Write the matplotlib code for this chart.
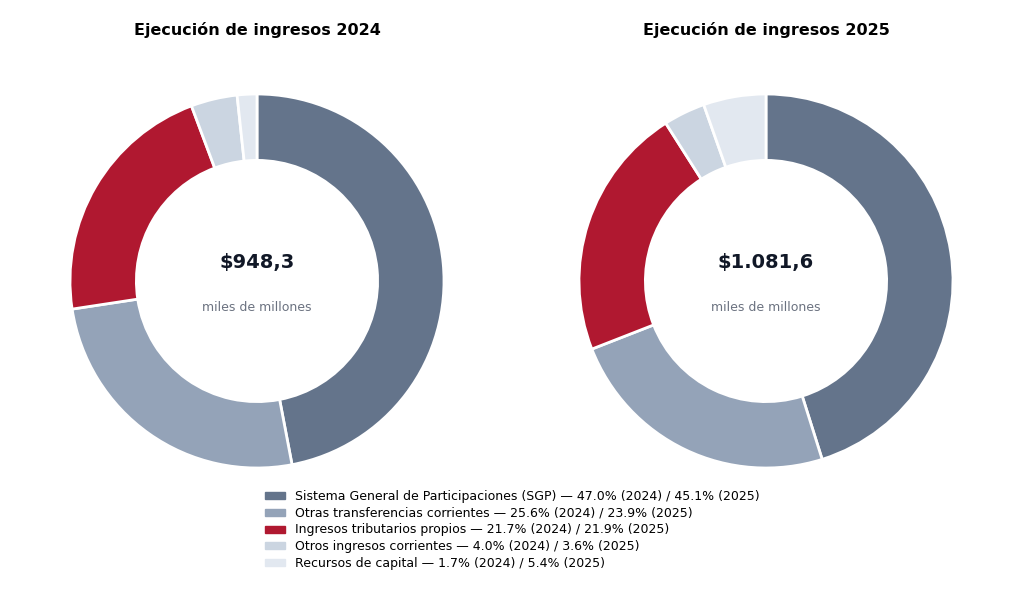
import matplotlib.pyplot as plt

categories = ['Sistema General de Participaciones (SGP)', 'Otras transferencias corrientes',
              'Ingresos tributarios propios', 'Otros ingresos corrientes', 'Recursos de capital']
shares_2024 = [47.0, 25.6, 21.7, 4.0, 1.7]
shares_2025 = [45.1, 23.9, 21.9, 3.6, 5.4]
totals = ['$948,3', '$1.081,6']
years = ['2024', '2025']
colors = ['#64748b', '#94a3b8', '#b01830', '#cbd5e1', '#e2e8f0']

fig = plt.figure(figsize=(10.24, 5.97), dpi=100)

centers_x = [257, 766]
for cx, shares, total, year in zip(centers_x, [shares_2024, shares_2025], totals, years):
    r = 187
    ax = fig.add_axes([(cx - r) / 1024, (597 - 281 - r) / 597, 2 * r / 1024, 2 * r / 597])
    ax.pie(shares, colors=colors, startangle=90, counterclock=False, radius=1,
           wedgeprops=dict(width=0.355, edgecolor='white', linewidth=2))
    ax.set_xlim(-1.0, 1.0)
    ax.set_ylim(-1.0, 1.0)
    ax.set_aspect('auto')
    ax.text(0, 0.1, total, ha='center', va='center', fontsize=14, fontweight='bold', color='#111827')
    ax.text(0, -0.14, 'miles de millones', ha='center', va='center', fontsize=9, color='#6b7280')
    fig.text(cx / 1024, 1 - 30 / 597, f'Ejecución de ingresos {year}', ha='center', va='center',
             fontsize=11.5, fontweight='bold')

handles = [plt.Rectangle((0, 0), 1, 1, color=c) for c in colors]
labels = [f'{c} — {a:.1f}% (2024) / {b:.1f}% (2025)' for c, a, b in zip(categories, shares_2024, shares_2025)]
fig.legend(handles, labels, loc='center', bbox_to_anchor=(0.5, 1 - 530 / 597), frameon=False,
           fontsize=9, handlelength=1.6, handleheight=0.5, labelspacing=0.3)

fig.savefig('out.png', dpi=100)
